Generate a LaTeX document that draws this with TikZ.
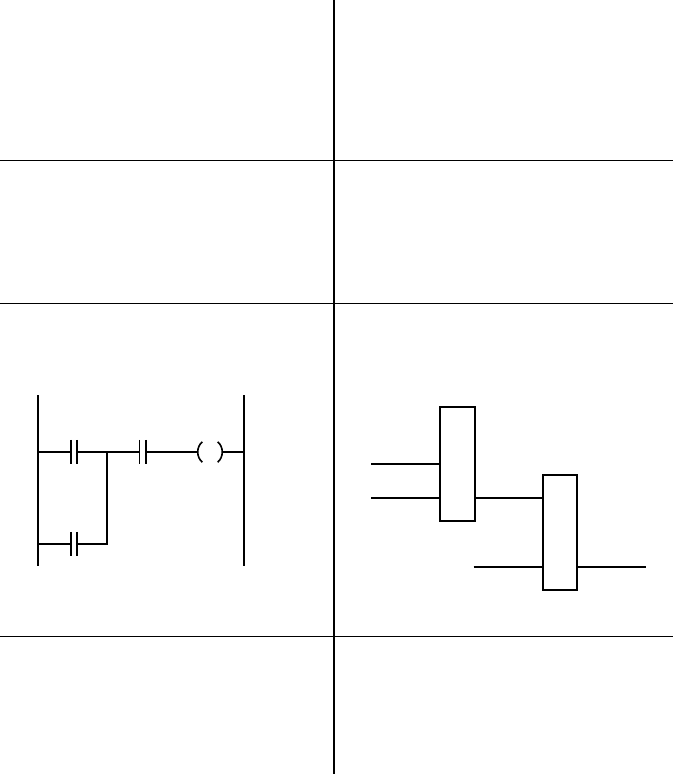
\documentclass[tikz,border=0pt]{standalone}
\usetikzlibrary{calc}

\begin{document}
\begin{tikzpicture}
      [x = 1pt, y = -1pt,
      rail/.style= {line width = 1.6pt},
      wire/.style= {line width = 1.6pt},
      grid/.style= {line width = 1pt},
      contact/.style= {
         minimum width = 6pt,
         minimum height = 24pt,
         inner sep = 0pt,
         append after command = {
            (\tikzlastnode.north west) edge[rail] (\tikzlastnode.south west)
            (\tikzlastnode.north east) edge[rail] (\tikzlastnode.south east)
         }
      },
      coil/.style= {
         minimum width = 24pt,
         minimum height = 20pt,
         inner sep = 0pt
      },
      block/.style= {
         draw,
         fill = white,
         line width = 1.6pt,
         minimum width = 34.5pt,
         inner sep = 0pt
      }]

      \useasboundingbox (0, 0) rectangle (673, 774);

      % table
      \coordinate (top) at (334, 0);
      \coordinate (bottom) at (334, 774);
      \draw[grid] (0, 160) -- (673, 160);
      \draw[grid] (0, 303) -- (673, 303);
      \draw[grid] (0, 636) -- (673, 636);
      \draw[rail] (top) -- (bottom);

      % ladder
      \coordinate (leftTop) at (38, 395);
      \coordinate (leftBottom) at (38, 566);
      \coordinate (rightTop) at (244, 395);
      \coordinate (rightBottom) at (244, 566);
      \coordinate (leftOne) at (38, 452);
      \coordinate (leftTwo) at (38, 544);
      \coordinate (rightOne) at (244, 452);
      \coordinate (join) at (107, 452);
      \coordinate (joinLow) at (107, 544);

      \node[contact] (contactA) at (74, 452) {};
      \node[contact] (contactB) at (74, 544) {};
      \node[contact] (contactC) at (142.5, 452) {};
      \node[coil] (output) at (210, 452) {};

      \draw[rail] (leftTop) -- (leftBottom);
      \draw[rail] (rightTop) -- (rightBottom);
      \draw[wire] (leftOne) -- (contactA.west);
      \draw[wire] (contactA.east) -- (join) -- (contactC.west);
      \draw[wire] (contactC.east) -- (output.west);
      \draw[wire] (output.east) -- (rightOne);
      \draw[wire] (leftTwo) -- (contactB.west);
      \draw[wire] (contactB.east) -- (joinLow) -- (join);
      \draw[rail] ($(output.north west) + (4.5, 0)$) to[bend right = 50] ($(output.south west) + (4.5, 0)$);
      \draw[rail] ($(output.north east) + (-4.5, 0)$) to[bend left = 50] ($(output.south east) + (-4.5, 0)$);

      % function blocks
      \coordinate (inA) at (371, 464);
      \coordinate (inB) at (371, 498);
      \coordinate (inC) at (473.5, 567);
      \coordinate (outB) at (645.5, 567);

      \node[block, minimum height = 114pt] (blockA) at (457.5, 464) {};
      \node[block, minimum height = 115pt] (blockB) at (560, 532.5) {};

      \draw[wire] (inA) -- (inA -| blockA.west);
      \draw[wire] (inB) -- (inB -| blockA.west);
      \draw[wire] (inB -| blockA.east) -- (inB -| blockB.west);
      \draw[wire] (inC) -- (inC -| blockB.west);
      \draw[wire] (outB -| blockB.east) -- (outB);

\end{tikzpicture}
\end{document}
